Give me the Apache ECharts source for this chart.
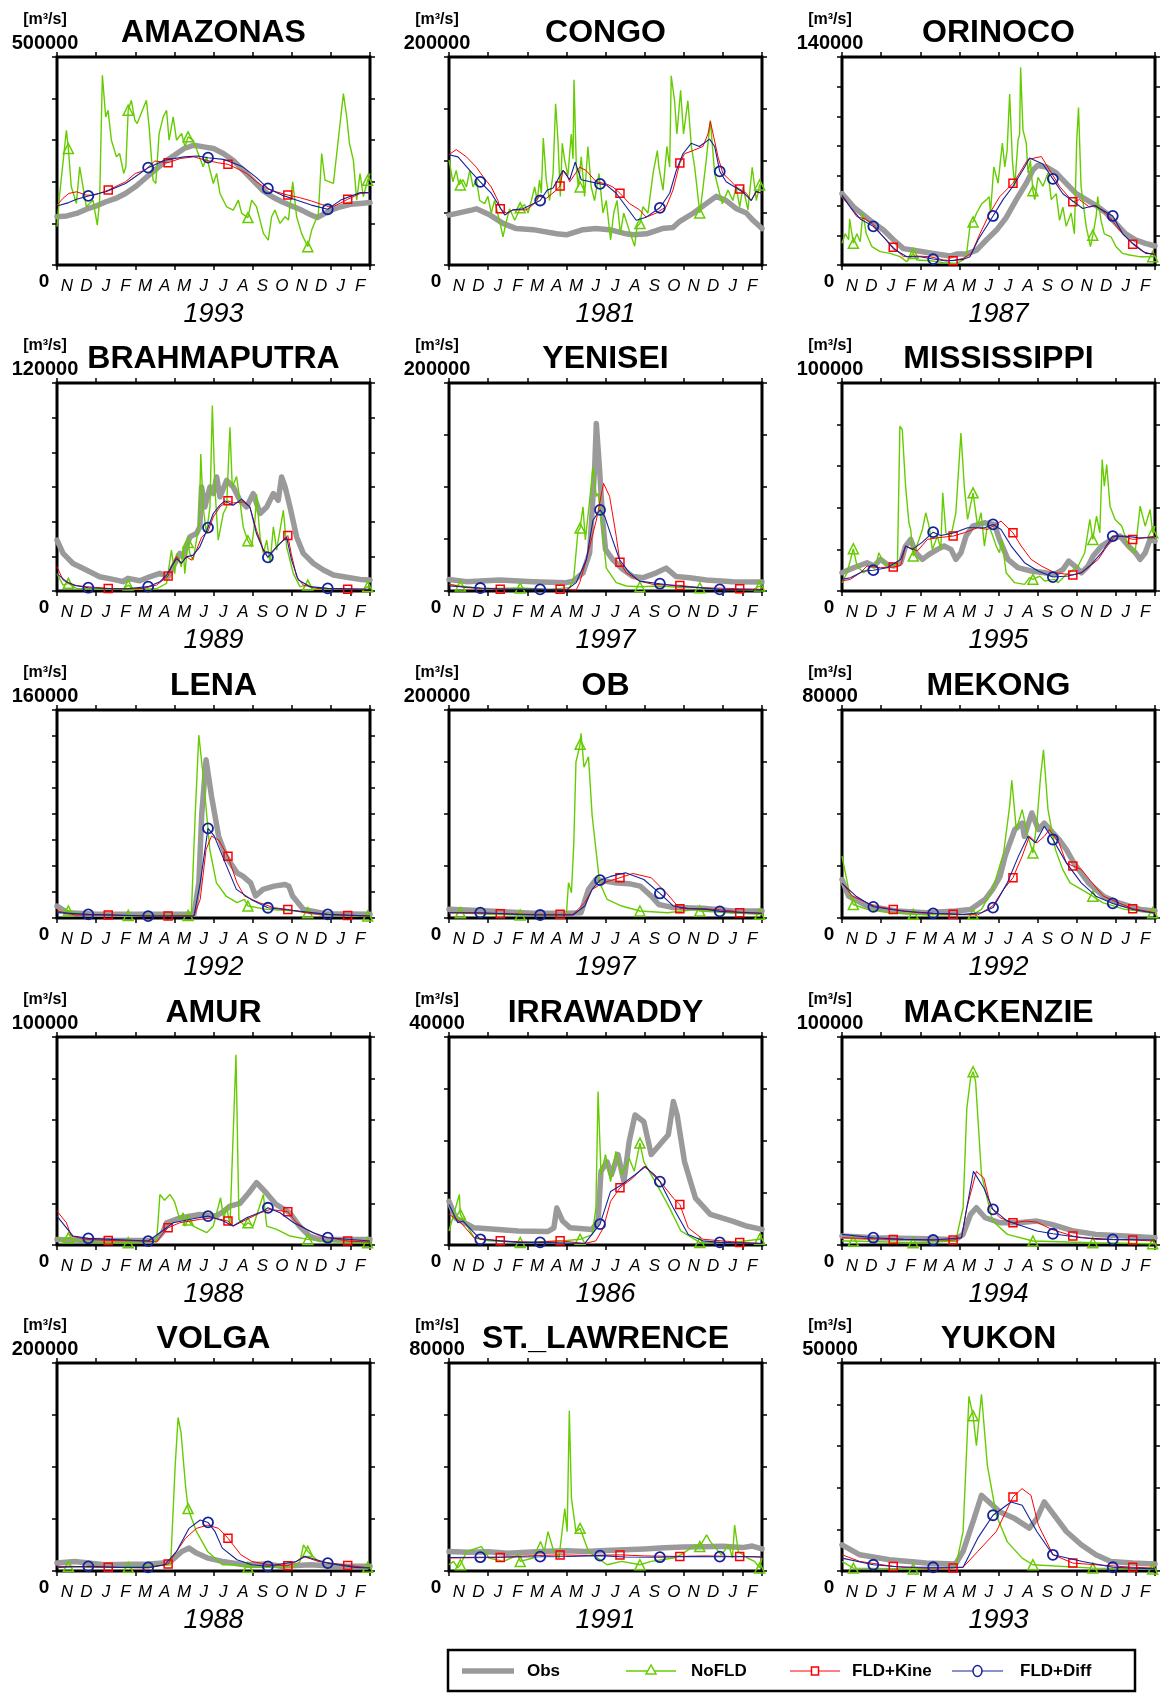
<!DOCTYPE html>
<html>
<head>
<meta charset="utf-8">
<script src="https://cdn.jsdelivr.net/npm/echarts@6/dist/echarts.min.js"></script>
<style>
html,body{margin:0;padding:0;background:#fff;}
#chart{width:1161px;height:1693px;}
</style>
</head>
<body>
<div id="chart"></div>
<script>
// River discharge hydrographs: observed vs. three model runs (values in 1000 m3/s, x in months from 1 Nov)
const rivers = ['AMAZONAS','CONGO','ORINOCO','BRAHMAPUTRA','YENISEI','MISSISSIPPI','LENA','OB','MEKONG','AMUR','IRRAWADDY','MACKENZIE','VOLGA','ST._LAWRENCE','YUKON'];
const years = ['1993','1981','1987','1989','1997','1995','1992','1997','1992','1988','1986','1994','1988','1991','1993'];
const yMax = [500000,200000,140000,120000,200000,100000,160000,200000,80000,100000,40000,100000,200000,80000,50000];
const yIntervals = [5,4,7,6,4,5,8,4,4,5,4,5,4,4,5];
const months = ['N','D','J','F','M','A','M','J','J','A','S','O','N','D','J','F'];
const seriesNames = ['Obs','NoFLD','FLD+Kine','FLD+Diff'];
// months at which each model run carries a marker
const triMonths = [0.58,3.64,6.70,9.76,12.82,15.88];
const sqrMonths = [2.62,5.68,8.74,11.80,14.86];
const cirMonths = [1.60,4.66,7.72,10.78,13.84];

const amazonasObs = [[0,116],[0.5,118],[1,124],[1.5,134],[2,142],[2.5,152],[3,160],[3.5,172],[4,188],[4.5,208],[5,228],[5.5,248],[6,264],[6.5,280],[7,288],[7.5,284],[8,280],[8.5,268],[9,252],[9.5,228],[10,204],[10.5,180],[11,164],[11.5,152],[12,142],[12.5,132],[13,120],[13.3,114],[13.7,124],[14,132],[14.5,140],[15,146],[15.5,148],[16,150]];
const amazonasNoFLD = [[0,92],[0.14,172],[0.48,324],[0.58,280],[0.73,188],[0.99,148],[1.16,236],[1.5,140],[1.84,156],[2.06,96],[2.18,156],[2.32,456],[2.49,356],[2.61,372],[2.78,300],[3.04,260],[3.2,268],[3.41,220],[3.52,236],[3.64,372],[3.8,396],[3.98,348],[4.1,340],[4.57,396],[4.71,332],[4.91,204],[5.05,196],[5.22,316],[5.43,356],[5.6,372],[5.73,300],[5.94,356],[6.11,300],[6.37,316],[6.54,284],[6.7,308],[6.96,300],[7.47,236],[7.65,260],[7.99,196],[8.16,220],[8.33,172],[8.67,140],[9.01,132],[9.27,156],[9.44,124],[9.76,114],[9.95,156],[10.2,140],[10.55,76],[10.8,60],[10.97,116],[11.14,132],[11.4,100],[11.66,116],[11.83,108],[12.05,200],[12.25,116],[12.5,76],[12.82,44],[13.02,84],[13.36,124],[13.53,268],[13.7,204],[14.13,196],[14.3,268],[14.64,412],[14.81,356],[14.95,292],[15.15,252],[15.32,156],[15.49,220],[15.66,164],[15.88,204],[16,220]];
const amazonasKine = [[0,144],[0.3,160],[0.6,172],[1,176],[1.5,168],[1.9,168],[2.62,180],[3.5,200],[4,220],[4.5,228],[5,250],[5.68,246],[6.3,256],[7,260],[7.6,252],[8.2,246],[8.74,242],[9.2,232],[9.7,220],[10.2,200],[10.7,184],[11.2,176],[11.8,168],[12.4,162],[13,154],[13.5,146],[13.9,140],[14.2,142],[14.86,158],[15.5,172],[16,174]];
const amazonasDiff = [[0,142],[0.6,150],[1.0,158],[1.6,166],[2.5,176],[3.5,196],[4.0,212],[4.66,234],[5.5,252],[6.5,260],[7.2,262],[7.72,258],[8.5,254],[9.5,236],[10.2,210],[10.78,184],[11.5,168],[12,160],[13,144],[13.84,134],[14.5,156],[15.5,174],[16,174]];

const congoObs = [[0,48],[1.2,53],[1.4,54],[2.1,48],[2.76,40],[3.44,35],[4.3,34],[5.5,30],[6,29],[6.85,34],[7.5,35],[8.2,34],[9.06,30],[9.4,29],[10.1,30],[10.9,35],[11.45,36],[11.8,42],[12.5,50],[13.15,59],[13.66,66],[14.17,62],[14.7,54],[15.2,50],[15.54,43],[16,35]];
const congoNoFLD = [[0,101],[0.2,80],[0.37,91],[0.51,77],[0.58,77],[0.72,82],[0.89,75],[1.06,91],[1.23,75],[1.4,82],[1.57,62],[1.82,59],[1.99,66],[2.16,50],[2.33,62],[2.59,42],[2.76,27],[2.93,42],[3.1,54],[3.36,43],[3.53,50],[3.64,55],[3.87,58],[4.04,50],[4.21,62],[4.38,75],[4.51,62],[4.63,82],[4.72,69],[4.82,122],[4.97,82],[5.14,62],[5.32,88],[5.45,155],[5.57,120],[5.69,66],[5.79,117],[5.91,101],[6.08,86],[6.25,126],[6.34,102],[6.39,178],[6.51,94],[6.61,75],[6.70,75],[6.76,104],[6.93,66],[7.1,114],[7.27,75],[7.44,62],[7.67,88],[7.87,50],[8.04,62],[8.26,24],[8.42,50],[8.59,62],[8.76,30],[8.93,50],[9.2,34],[9.49,18],[9.61,37],[9.76,40],[9.91,56],[10.17,50],[10.43,88],[10.65,110],[10.73,94],[10.94,72],[11.14,114],[11.28,94],[11.36,182],[11.53,158],[11.65,126],[11.84,168],[11.99,126],[12.21,158],[12.39,114],[12.56,94],[12.82,50],[12.95,69],[13.15,101],[13.36,139],[13.58,88],[13.83,69],[13.97,59],[14.26,72],[14.51,62],[14.68,75],[14.86,56],[15.03,75],[15.28,53],[15.5,94],[15.71,62],[15.88,77],[16,78]];
const congoKine = [[0,106],[0.37,111],[0.89,104],[1.4,94],[1.74,85],[2.16,75],[2.5,62],[2.62,54],[2.93,50],[3.27,53],[3.95,53],[4.3,58],[4.63,66],[4.97,64],[5.49,72],[5.68,76],[5.83,91],[6,88],[6.17,80],[6.68,94],[7,91],[7.53,80],[8.04,78],[8.38,75],[8.74,69],[9.23,59],[9.74,53],[10.08,46],[10.6,50],[11.1,56],[11.45,72],[11.8,98],[12.04,107],[12.47,110],[12.98,114],[13.24,126],[13.36,138],[13.5,126],[13.75,104],[14,88],[14.34,82],[14.69,75],[14.86,73],[15.2,69],[15.45,62],[15.7,70],[16,69]];
const congoDiff = [[0,106],[0.46,104],[1.06,91],[1.6,80],[2.16,69],[2.59,56],[2.85,48],[3.27,53],[3.78,54],[4.66,62],[5.02,72],[5.32,74],[5.83,91],[6.17,82],[6.45,99],[6.76,82],[7.72,78],[8.04,77],[8.55,69],[9.06,56],[9.57,43],[10.08,46],[10.78,55],[11.28,69],[11.62,91],[11.96,107],[12.38,117],[12.8,114],[13.32,121],[13.58,114],[13.84,90],[14.17,80],[14.69,74],[15.03,70],[15.45,62],[15.7,71],[16,69]];

const orinocoObs = [[0,48],[0.6,39],[1.44,30],[2.12,23.5],[2.63,17],[3.14,11],[3.82,9.6],[4.67,7.8],[5.18,6.7],[5.52,6],[5.86,7.4],[6.37,7.4],[6.88,10],[7.39,17],[7.9,23.5],[8.4,32],[8.91,44],[9.42,55],[9.76,64],[10,67],[10.44,66],[10.95,62],[11.46,55],[11.97,48],[12.48,44],[12.99,40],[13.5,35],[14,28],[14.5,21],[15,17],[15.5,14.6],[16,12.8]];
const orinocoNoFLD = [[0,14.6],[0.17,21],[0.34,17],[0.39,31],[0.58,14.6],[0.76,21],[0.93,15.7],[1.07,35],[1.24,21],[1.53,12.3],[1.95,9],[2.46,7.8],[2.97,5.6],[3.31,2.2],[3.64,7.8],[3.82,3.4],[4.5,2.9],[5.18,1.6],[5.86,1.1],[6.2,3.4],[6.37,7.8],[6.57,29],[6.70,29],[6.88,35],[7.13,41],[7.39,44],[7.52,46],[7.59,35],[7.76,66],[7.98,55],[8.1,70.5],[8.2,82],[8.32,66],[8.44,77],[8.57,115],[8.71,70.5],[8.83,53],[9,84],[9.08,88],[9.13,133],[9.25,91],[9.42,82],[9.51,62],[9.63,70.5],[9.76,50],[9.85,44],[10.02,59],[10.27,53],[10.53,62],[10.7,44],[10.95,48],[11.12,30],[11.29,39],[11.46,26],[11.71,35],[11.88,21],[12,84],[12.09,106],[12.22,53],[12.48,26],[12.7,12.3],[12.82,20],[12.99,32.5],[13.07,46],[13.24,30],[13.41,21],[13.75,19],[14.01,12.3],[14.35,7.8],[14.69,6.7],[15.2,5.6],[15.88,5.6],[16,7.8]];
const orinocoKine = [[0,46],[0.42,39],[0.76,32.5],[1.19,31],[1.62,27],[2.04,20],[2.62,12],[3.14,5.6],[3.82,6],[4.5,5.6],[5.18,3.4],[5.68,2.9],[6.2,4.5],[6.62,7.8],[7.05,21],[7.56,35],[8.06,46],[8.74,55],[9.08,62],[9.5,71],[10.19,73],[10.61,64],[11.12,53],[11.8,42.5],[12.14,44],[12.65,39],[12.99,40],[13.67,32.5],[14.18,23.5],[14.86,14],[15.37,9],[16,6.7]];
const orinocoDiff = [[0,47],[0.42,39],[0.93,31],[1.6,26],[2.12,19],[2.63,11],[3.31,5.6],[3.99,5.6],[4.66,4],[5.35,2.7],[6.2,3.8],[6.54,5.6],[6.96,17],[7.72,33],[8.23,44],[8.74,53],[9.34,66],[9.59,72],[10.27,68],[10.78,58],[11.29,48],[11.8,43],[12.31,38],[12.9,40],[13.84,33],[14.35,21],[14.86,14.6],[15.53,7.8],[16,7.4]];

const brahmaputraObs = [[0,29.3],[0.31,21.7],[0.82,15.9],[1.5,12.1],[2.18,8.2],[2.87,6.7],[3.38,5.4],[3.63,7.3],[4.23,5.9],[4.74,8.2],[5.26,10.2],[5.68,8.2],[5.94,14],[6.28,21.7],[6.45,19.7],[6.79,31.2],[7.13,33.2],[7.3,37],[7.39,60],[7.56,48.5],[7.82,60],[7.99,56.2],[8.16,65.8],[8.33,54.3],[8.67,63.8],[9.01,60],[9.35,52.3],[9.69,48.5],[10.03,56.2],[10.38,44.7],[10.72,48.5],[11.06,56.2],[11.31,52.3],[11.48,65.8],[11.66,60],[11.91,48.5],[12.25,31.2],[12.59,21.7],[13.11,15.9],[13.62,12.1],[14.13,9.2],[14.81,7.9],[15.49,6.7],[16,6.3]];
const brahmaputraNoFLD = [[0,10],[0.31,3.4],[0.58,4.4],[0.99,1.5],[2.18,1],[3.38,1],[3.64,3.4],[3.89,1],[5.09,1.3],[5.6,4.4],[5.85,23.6],[6.02,10],[6.11,21.7],[6.36,14],[6.45,25.5],[6.53,10],[6.7,28],[6.79,21.7],[6.96,17.8],[7.13,29.3],[7.27,39],[7.35,79],[7.47,48.5],[7.64,33],[7.82,48.5],[7.94,107],[8.07,60],[8.24,29.3],[8.5,44.7],[8.67,48.5],[8.84,94.5],[8.96,60],[9.18,66],[9.35,52],[9.52,37],[9.69,31],[9.76,29],[9.95,25.5],[10.12,40.8],[10.2,56],[10.38,31],[10.55,21.7],[10.72,29.3],[10.89,16],[11.06,37],[11.23,23.6],[11.57,46.6],[11.74,25.5],[12.08,10],[12.42,2.5],[12.82,3.4],[13.11,1],[15.66,1],[15.88,2.5],[16,1.5]];
const brahmaputraKine = [[0,14],[0.31,6.3],[0.82,3.4],[1.5,2.5],[2.62,1.5],[3.5,1.2],[4.4,1.5],[5.09,3.4],[5.68,8.6],[5.84,14],[6.11,20],[6.36,16],[6.62,19.7],[6.88,17.8],[7.13,23.6],[7.39,31],[7.73,34.7],[7.99,42.7],[8.33,48.5],[8.74,52],[9.01,50.8],[9.52,51.4],[9.86,48.5],[10.2,35],[10.55,23.6],[10.89,21.7],[11.23,25.5],[11.57,29.3],[11.8,32],[11.97,21.7],[12.25,8.2],[12.59,3.4],[13.28,1.5],[14.86,1],[16,0.6]];
const brahmaputraDiff = [[0,10],[0.48,5.4],[0.99,3],[1.6,1.9],[2.7,1.3],[3.55,1.3],[4.66,2.5],[5.26,5.4],[5.6,9.2],[6.11,18.8],[6.36,16],[6.62,19.7],[6.96,20.7],[7.3,25.5],[7.72,36.6],[7.99,44.7],[8.33,49.5],[8.58,52],[9.01,49.5],[9.44,53],[9.86,48.5],[10.2,33],[10.55,23.6],[10.78,19.4],[11.23,25.5],[11.57,29.3],[11.74,31],[11.99,17.8],[12.34,6.3],[12.94,2.5],[13.84,1.5],[16,1]];

const yeniseiObs = [[0,11],[0.89,9],[2.59,10.5],[4.29,9],[5.99,8],[6.34,9.5],[6.85,17.5],[7.19,36.6],[7.45,120],[7.53,161],[7.7,116],[7.85,70],[8.0,40],[8.38,30],[8.89,20.7],[9.4,14],[9.9,12.7],[10.6,17.5],[11.1,22],[11.6,14],[12.3,12.7],[13.15,10.5],[14.5,9],[16,8.6]];
const yeniseiNoFLD = [[0,6.4],[0.58,4.8],[1.74,2.2],[3.64,2.9],[5.15,1.6],[6.16,3.2],[6.37,11],[6.59,57],[6.70,60.5],[6.85,81],[6.97,49],[7.19,87.5],[7.36,119],[7.53,91],[7.62,94],[7.79,68],[8.04,22],[8.55,8],[9.06,4.8],[9.76,4.1],[10.77,4.8],[11.96,3.2],[12.82,3.2],[13.66,1.6],[15.54,1],[15.88,4.8],[16,2.5]];
const yeniseiKine = [[0,6.4],[0.89,3.2],[2.62,1.6],[5.68,1.6],[6.5,1.0],[6.68,8],[7.02,30],[7.53,68],[7.9,103.5],[8.0,105],[8.21,91],[8.55,52.5],[8.74,27.7],[9.06,17.5],[9.74,9.5],[10.43,6.4],[11.8,5.4],[12.81,3.2],[14.86,2.2],[16,1.6]];
const yeniseiDiff = [[0,4.8],[1.6,2.9],[3.1,1.6],[4.66,1.6],[6.0,1.0],[6.5,8],[7.02,30],[7.36,68],[7.72,78],[7.96,71.7],[8.3,52.5],[8.72,30],[9.23,17.5],[9.74,9.5],[10.78,7],[11.62,4.8],[12.81,3.2],[13.84,1.6],[16,1]];

const mississippiObs = [[0,8.8],[0.6,11.2],[1.28,13.6],[1.63,12],[1.97,15.2],[2.31,12.8],[2.65,12],[3,13.6],[3.25,21.6],[3.51,24.8],[3.77,18.4],[4.11,15.2],[4.45,17.6],[4.88,20],[5.22,21.6],[5.57,20],[5.82,15.2],[6.08,18.4],[6.34,26.4],[6.68,31.2],[7.28,32.8],[7.79,32],[8.05,24.8],[8.48,15.2],[8.99,11.2],[9.67,9.6],[10.36,8.8],[10.87,8],[11.3,10.4],[11.59,14.4],[11.9,12],[12.24,8.8],[12.58,12],[12.84,16.8],[13.27,21.6],[13.78,24.8],[14.21,26.4],[14.64,21.6],[15,18.4],[15.24,15.2],[15.5,18.4],[15.75,24.8],[16,24]];
const mississippiNoFLD = [[0,4],[0.26,8.8],[0.58,20.3],[0.77,12],[1.11,8.8],[1.54,12],[1.71,11.2],[1.88,18.4],[2.23,12],[2.65,12.8],[2.83,11.2],[2.96,79.2],[3.08,77.6],[3.25,50.4],[3.42,32.8],[3.51,29.6],[3.64,16.8],[3.94,24.8],[4.11,29.6],[4.28,37.6],[4.45,31.2],[4.62,20],[4.88,26.4],[5.05,20],[5.15,47.2],[5.31,28],[5.57,26.4],[5.82,37.6],[6.08,76],[6.25,50.4],[6.42,34.4],[6.70,47.2],[6.93,31.2],[7.11,37.6],[7.28,21.6],[7.45,32.8],[7.71,26.4],[7.88,21.6],[8.05,18.4],[8.17,24.8],[8.39,8.8],[8.82,4],[9.33,3.2],[9.59,6.4],[9.76,5.6],[10.1,7.2],[10.36,4.8],[10.87,5.6],[11.04,4],[11.39,7.2],[12.07,12],[12.41,18.4],[12.67,34.4],[12.82,24.8],[13.01,36],[13.18,28],[13.3,63.2],[13.41,50.4],[13.53,60.8],[13.7,40.8],[13.96,34.4],[14.3,31.2],[14.64,21.6],[14.98,18.4],[15.24,40.8],[15.5,31.2],[15.75,39.2],[15.88,28],[16,31.2]];
const mississippiKine = [[0,4.8],[0.43,5.6],[0.94,8.8],[1.28,12],[1.97,11.2],[2.62,11.5],[3,12.3],[3.25,21.6],[3.68,20],[3.85,19.2],[4.37,24.8],[4.88,25.6],[5.68,26.4],[6.25,28],[6.93,30.4],[7.45,29.6],[8.13,33.6],[8.74,28],[9.16,21.6],[9.67,15.2],[10.19,12],[10.87,8.8],[11.8,7.7],[12.24,8.8],[12.58,11.2],[13.1,15.2],[13.44,20],[13.95,26.4],[14.47,26],[14.86,24.8],[15.24,25.2],[16,26.4]];
const mississippiDiff = [[0,5.6],[0.43,6.4],[1.11,9.6],[1.6,10],[2.31,11.2],[3,15.2],[3.25,21.6],[3.6,20],[4.11,23.5],[4.66,28.3],[5.05,26.7],[5.74,28],[6.42,30.4],[7.28,30.4],[7.72,32],[8.13,29.6],[8.65,21.6],[9.33,13.6],[10.02,9.6],[10.78,6.7],[11.56,7.2],[12.24,8.8],[12.75,12.8],[13.27,18.4],[13.84,26.4],[14.47,26.4],[15.15,25.6],[16,25.6]];

const lenaObs = [[0,9.2],[0.53,4.1],[2.04,2.8],[4.68,2.8],[7,2.8],[7.25,27],[7.4,80],[7.62,121.7],[7.9,93.5],[8.26,63],[8.64,47.5],[9.2,34.8],[9.5,32.2],[9.9,27],[10.15,16.9],[10.53,22],[11.1,24.5],[11.66,25.8],[11.85,24.5],[12.04,16.9],[12.6,6.6],[13.7,3.3],[16,2.8]];
const lenaNoFLD = [[0,4.1],[0.58,5.4],[1.28,2.8],[3.64,2],[6.57,2],[6.70,2],[6.87,4.1],[7.06,78],[7.25,140.8],[7.51,103.8],[7.81,52.7],[8.15,27],[8.64,16.9],[9.2,11.8],[9.58,14.3],[9.76,9.2],[10.72,6.6],[12.23,5.4],[12.82,4.1],[14.11,2],[15.88,1.5],[16,1.5]];
const lenaKine = [[0,5.4],[0.91,2.3],[2.62,2.3],[4.68,1.5],[5.68,1.5],[7,1.5],[7.32,14.3],[7.62,52.7],[7.9,63],[8.26,60],[8.74,47.5],[9.2,27],[9.58,16.9],[10.34,11.8],[11.1,7.9],[11.8,6.6],[12.98,3.3],[14.86,2],[16,1.5]];
const lenaDiff = [[0,4.1],[1.6,2.8],[4.66,1.5],[7,1.5],[7.32,27],[7.72,69],[8.04,63],[8.6,42.4],[9.17,22],[9.92,14.3],[10.78,7.9],[12.3,5.4],[13.84,2.8],[16,1.5]];

const obObs = [[0,8.3],[2.04,6.7],[4.3,4.5],[6.19,4.5],[6.75,5.1],[7.13,27.5],[7.51,37],[8.45,34],[9.2,33],[9.77,30.7],[10.34,21],[10.72,13],[11.47,10],[13,9.3],[14.5,6.7],[16,6.7]];
const obNoFLD = [[0,5.1],[0.58,5.1],[2.04,3.5],[3.64,2.9],[6.0,2.9],[6.11,34],[6.26,24.3],[6.38,72],[6.49,150],[6.64,161.7],[6.70,167],[6.75,177.6],[6.9,145],[7.13,155],[7.32,97.8],[7.7,34],[8.08,18],[8.83,11.5],[9.76,6.7],[11.17,5.1],[12.68,8.3],[12.82,6.7],[14.5,5.1],[15.88,3.5],[16,3.5]];
const obKine = [[0,5.1],[2.62,4.2],[4.3,3.5],[5.68,3.5],[6.34,3.5],[6.94,14.7],[7.32,27.5],[7.9,34],[8.74,38.7],[9.4,42.8],[10.34,38.7],[11.1,24.3],[11.8,9],[13,9],[14.5,6.7],[14.86,5.1],[16,4.5]];
const obDiff = [[0,5.1],[1.6,5.1],[3.55,3.5],[4.66,2.9],[6.34,2.9],[6.94,11.5],[7.32,27.5],[7.72,36.4],[8.26,40],[9.02,43.5],[9.96,37],[10.78,23.6],[11.47,11.5],[12.23,9],[13.17,8.3],[13.84,6.4],[16,4.5]];

const mekongObs = [[0,14.8],[0.34,8.4],[1.28,4.6],[2.79,2.7],[4.3,2],[5.81,2.7],[6.57,3.3],[7.32,7.2],[7.7,11],[8.08,16],[8.34,23.8],[8.83,34],[9.21,36.5],[9.32,31.4],[9.7,40.4],[10.04,34],[10.34,36.5],[11.09,30.2],[11.47,26.3],[11.85,21.2],[12.6,13.5],[13.36,8.4],[14.11,5.9],[15.25,3.3],[16,2.7]];
const mekongNoFLD = [[0,23.8],[0.34,11],[0.58,5.2],[1.28,3.3],[2.42,2],[3.64,1.4],[5.43,1.2],[6.7,1.4],[7.13,3.3],[7.7,11],[8.26,25],[8.57,43],[8.68,53],[8.91,34],[9.21,41.7],[9.51,31.4],[9.76,25],[9.96,36.5],[10.15,54.4],[10.3,64.7],[10.53,41.7],[10.91,26.3],[11.28,18.7],[11.66,13.5],[12.23,11],[12.82,8.4],[13.32,5.9],[14.45,3.3],[15.88,2],[16,2]];
const mekongKine = [[0,13.5],[0.53,8.4],[1.66,4.6],[2.62,3.3],[3.92,2],[5.68,1.4],[6.94,1.2],[7.7,4.6],[8.26,11],[8.74,15.5],[9.21,23.8],[9.58,31.4],[9.96,28.9],[10.34,31.4],[10.6,34],[11.09,28.9],[11.47,21.2],[11.8,20],[12.23,18.7],[12.79,13.5],[13.36,8.4],[14.11,5.9],[14.86,3.6],[16,2]];
const mekongDiff = [[0,13.3],[0.72,8.4],[1.6,4.3],[3.17,2.6],[4.66,1.8],[6.19,1.4],[7.13,2],[7.72,4],[8.45,13.5],[9.02,23.8],[9.51,31.4],[9.89,28.9],[10.34,35.3],[10.78,30.2],[11.47,21.2],[12.23,13.5],[12.98,8.4],[13.84,5.6],[14.87,3.3],[16,1.8]];

const amurObs = [[0,2.7],[1.66,2.2],[4.68,2.2],[5.08,2.7],[5.4,6],[5.6,10.7],[6.3,13],[7.3,14.7],[8.15,14],[8.5,16],[8.84,18.7],[9.35,20],[9.8,25],[10.2,30],[10.3,30.7],[10.7,25],[11.2,19.5],[11.9,15.5],[12.4,9],[12.9,4.3],[13.4,2.7],[16,2.7]];
const amurNoFLD = [[0,3.5],[0.25,2],[0.58,3.5],[1.3,1.5],[3.64,1.1],[5.08,1.9],[5.15,9.1],[5.26,24.3],[5.5,21.5],[5.77,24.3],[6.0,21],[6.28,12.3],[6.45,15.5],[6.53,9.1],[6.70,12],[6.96,9.1],[7.65,5.9],[7.99,9.1],[8.36,22.7],[8.53,12.3],[8.67,18.7],[8.84,9.1],[9.15,91.5],[9.3,12.3],[9.6,9.1],[9.76,10.7],[10.03,9.1],[10.55,24.3],[10.72,9.1],[11.23,7.5],[11.91,4.3],[12.82,2.7],[14.11,1.5],[15.88,1.1],[16,1.1]];
const amurKine = [[0,16.3],[0.48,10.7],[0.73,4.3],[1.5,2.7],[2.62,2.2],[4.6,1.9],[5.1,1.4],[5.43,5.9],[5.68,8.3],[6.28,10.7],[7.3,12.3],[7.99,13.1],[8.74,11.5],[9.0,9.1],[9.7,12.3],[10.4,15.5],[10.9,17.1],[11.8,16],[12.25,10.7],[12.76,7.5],[13.45,4.3],[14.86,1.9],[16,1.4]];
const amurDiff = [[0,13.9],[0.82,4.3],[1.6,3.2],[4.66,1.9],[5.26,5.9],[5.94,10.7],[6.96,12.6],[7.72,13.9],[8.5,11.5],[9.0,9.1],[9.7,13.1],[10.55,16.3],[10.78,17.9],[11.4,15.5],[12.1,10.7],[13.1,5.9],[13.84,3.5],[16,1.9]];

const irrawaddyObs = [[0,8.4],[0.34,5.2],[1.28,3.3],[3.55,2.7],[5.06,2.6],[5.36,3.3],[5.51,7.1],[5.81,4.6],[6.19,3.3],[7.32,3],[7.62,4.6],[7.77,14.2],[8.08,16],[8.3,13.5],[8.64,17.4],[8.94,12.2],[9.21,19.9],[9.51,25],[9.96,23.7],[10.34,17.4],[10.91,19.9],[11.21,21.2],[11.47,27.6],[11.66,25],[12.04,16],[12.6,9],[13.36,5.9],[14.49,4.6],[15.25,3.6],[16,3]];
const irrawaddyNoFLD = [[0,2.7],[0.53,9.7],[0.58,5.9],[1.28,1.4],[2.04,0.8],[3.64,0.5],[5.81,0.8],[6.70,1.1],[7.32,2],[7.51,7.1],[7.62,29.5],[7.77,13.5],[8,17.4],[8.26,12.2],[8.53,18],[8.83,13.5],[9.21,16.7],[9.47,14.2],[9.76,19.6],[9.96,16],[10.34,13.5],[10.72,11],[11.28,7.1],[11.85,2.7],[12.82,0.5],[14.49,0.5],[15.88,1.1],[16,2]];
const irrawaddyKine = [[0,5.9],[0.53,4.6],[1.28,1.4],[2.62,0.8],[4.3,0.5],[5.68,0.8],[6.94,0.3],[7.51,0.8],[7.89,3.3],[8.26,8.4],[8.74,11],[9.4,12.9],[9.96,15.1],[10.53,13.5],[11.47,9],[11.8,7.8],[12.23,3.3],[12.98,1.1],[14.86,0.5],[16,0.3]];
const irrawaddyDiff = [[0,7.8],[0.45,4.3],[0.72,4.6],[1.6,1.1],[3.55,0.5],[4.66,0.5],[6.94,0.3],[7.72,4],[8.26,10.3],[8.83,11.6],[9.51,13.5],[10.04,15.1],[10.78,12.2],[11.47,7.1],[12.23,2],[12.98,0.8],[13.84,0.5],[16,0.3]];

const mackenzieObs = [[0,4.3],[1.66,3.5],[4.3,3],[5.81,2.7],[6.19,5.1],[6.57,14.7],[6.87,17.9],[7.32,13.1],[8.08,10.7],[9.02,10.7],[9.96,11.5],[10.72,9.9],[11.85,6.7],[12.98,5.1],[14.49,4.3],[16,3.5]];
const mackenzieNoFLD = [[0,1.9],[0.58,1.9],[3.64,1.1],[5.81,1.9],[6.19,17.9],[6.38,65.7],[6.57,80],[6.70,83.3],[6.83,78.5],[7.13,33.8],[7.7,11.5],[8.45,5.1],[9.76,1.9],[12.82,1.1],[15.88,0.6],[16,0.6]];
const mackenzieKine = [[0,3.5],[2.62,2.7],[5.68,2.4],[6.11,3.5],[6.38,17.9],[6.87,35.4],[7.25,32.2],[7.62,17.9],[8.08,13.1],[8.74,10.7],[9.4,11.5],[9.96,11],[10.72,7.5],[11.8,4.3],[12.98,2.7],[14.86,2.4],[16,1.9]];
const mackenzieDiff = [[0,5.1],[1.6,3.5],[3.17,2.7],[4.66,2.4],[6.11,3.5],[6.38,17.9],[6.72,35.4],[7.25,27.4],[7.72,17.1],[8.45,11.5],[9.21,9.1],[9.96,6.7],[10.78,5.4],[12.23,3.5],[13.84,2.7],[16,2.4]];

const volgaObs = [[0,7.6],[0.91,9.2],[2.42,6],[4.68,6.7],[5.43,7.6],[5.81,9.2],[6.38,18.8],[6.75,22],[7.13,17.2],[7.7,12.4],[8.45,9.2],[9.58,6],[10.72,6.7],[11.47,4.5],[12.98,6],[14.11,4.5],[16,4.5]];
const volgaNoFLD = [[0,3.5],[0.58,4.5],[1.66,3.5],[3.64,3.5],[5.81,6],[6.04,101],[6.19,147.6],[6.34,133],[6.57,82],[6.70,60],[7.13,37.8],[7.7,18.8],[8.45,6],[9.2,6],[9.76,3.5],[12.04,3.5],[12.42,9.2],[12.6,25],[12.82,18.8],[13.36,9.2],[14.87,4.5],[15.88,3.5],[16,3.5]];
const volgaKine = [[0,4.5],[2.62,3.5],[4.68,2.9],[5.68,6.7],[6.0,15.6],[6.57,31.5],[7.13,41],[7.7,44.2],[8.26,41],[8.74,31.5],[9.4,15.6],[9.96,9.2],[10.79,6],[11.8,5.1],[12.23,9.2],[12.6,14],[13.36,9.2],[14.86,5.4],[16,2.9]];
const volgaDiff = [[0,3.5],[1.6,4.5],[3.17,3.5],[4.66,3.5],[5.51,6],[6.11,18.8],[6.75,41],[7.32,49],[7.72,46.7],[8.08,37.8],[8.45,22],[9.2,10.8],[9.96,6],[10.78,4.5],[12.23,9.2],[12.68,14],[13.84,7.6],[15.25,3.5],[16,2.9]];

const stlawrenceObs = [[0,7.5],[1,7.2],[2,7.4],[3,6.8],[4,7.2],[5,7.6],[6,7.8],[7,7.5],[8,7.9],[9,8.2],[10,8.5],[11,8.9],[12,9.2],[13,9.3],[14,9.5],[15,9],[15.5,9.6],[16,8.5]];
const stlawrenceNoFLD = [[0,2.4],[0.23,3.7],[0.45,1.2],[0.58,2.4],[0.91,7.5],[1.66,9.4],[2.04,5],[2.79,3.7],[3.55,6.2],[3.64,3.7],[4.3,5],[4.68,11.3],[4.87,7.5],[5.06,15.1],[5.36,7.5],[5.62,5],[5.92,24],[6.04,15.1],[6.15,61.6],[6.26,27.9],[6.49,15.1],[6.70,16.4],[7.13,7.5],[8.08,2.4],[8.83,3.7],[9.76,2.4],[10.34,3.7],[11.47,5],[11.85,6.2],[12.6,10],[12.82,9.4],[13.17,13.9],[13.36,11.3],[13.92,6.2],[14.3,10],[14.49,5],[14.6,17.7],[14.79,7.5],[15.25,5],[15.62,3.7],[15.88,1.2],[16,5]];
const stlawrenceKine = [[0,5],[1.3,5.1],[2.62,5.2],[4,5.8],[5.68,6.2],[7,6],[8.74,6.2],[10,5.8],[11.8,5.6],[13,5.8],[14.86,5.6],[16,5.4]];
const stlawrenceDiff = [[0,5.2],[1.6,5.3],[3,5.4],[4.66,5.5],[6,5.6],[7.72,5.9],[9,5.4],[10.78,5.3],[12,5.6],[13.84,5.5],[15,5.6],[16,5.4]];

const yukonObs = [[0,6.3],[0.91,3.9],[2.42,2.7],[4.3,1.9],[5.81,1.7],[6.19,4.7],[6.75,12.6],[7.13,18.2],[7.51,16.6],[8.08,14.2],[8.83,12.6],[9.58,10.3],[9.96,12.6],[10.34,16.6],[10.72,14.2],[11.47,9.5],[12.23,6.3],[12.98,3.9],[13.74,2.3],[14.87,1.9],[16,1.7]];
const yukonNoFLD = [[0,2.3],[0.58,0.7],[3.64,0.5],[5.81,0.9],[6.19,9.5],[6.49,42],[6.70,37.3],[6.87,30.1],[7.13,42.5],[7.43,25.4],[7.89,13.4],[8.45,7],[9.21,3.1],[9.76,1.5],[12.82,0.7],[15.88,0.5],[16,0.5]];
const yukonKine = [[0,3.9],[0.91,2.3],[2.62,1.1],[4.3,0.7],[5.68,0.7],[6.19,0.9],[6.94,4.7],[7.89,9.5],[8.74,17.8],[9.2,19.8],[9.66,18.2],[10.04,11],[10.79,3.9],[11.8,1.9],[12.98,1.5],[14.86,0.9],[16,0.7]];
const yukonDiff = [[0,3.1],[1.6,1.5],[3.17,0.9],[4.66,0.9],[6.19,0.9],[6.94,7.9],[7.72,13.4],[8.64,16.6],[9.21,15.8],[9.96,9.5],[10.78,3.9],[12.3,2.3],[13.84,0.9],[16,0.5]];

const panelSeries = [
  [amazonasObs, amazonasNoFLD, amazonasKine, amazonasDiff],
  [congoObs, congoNoFLD, congoKine, congoDiff],
  [orinocoObs, orinocoNoFLD, orinocoKine, orinocoDiff],
  [brahmaputraObs, brahmaputraNoFLD, brahmaputraKine, brahmaputraDiff],
  [yeniseiObs, yeniseiNoFLD, yeniseiKine, yeniseiDiff],
  [mississippiObs, mississippiNoFLD, mississippiKine, mississippiDiff],
  [lenaObs, lenaNoFLD, lenaKine, lenaDiff],
  [obObs, obNoFLD, obKine, obDiff],
  [mekongObs, mekongNoFLD, mekongKine, mekongDiff],
  [amurObs, amurNoFLD, amurKine, amurDiff],
  [irrawaddyObs, irrawaddyNoFLD, irrawaddyKine, irrawaddyDiff],
  [mackenzieObs, mackenzieNoFLD, mackenzieKine, mackenzieDiff],
  [volgaObs, volgaNoFLD, volgaKine, volgaDiff],
  [stlawrenceObs, stlawrenceNoFLD, stlawrenceKine, stlawrenceDiff],
  [yukonObs, yukonNoFLD, yukonKine, yukonDiff]
];

// ---- layout and styling ----
const FONT = '"Liberation Sans", Arial, Helvetica, sans-serif';
const colLeft = [57, 449, 842];
const rowTop = [57, 383, 710, 1037, 1363];
const PW = 313, PH = 208;
const COLORS = { obs: '#9a9a9a', nofld: '#66cc00', kine: '#ff0000', diff: '#14239a' };

function markerSize(positions, size) {
  return function (val) {
    const x = val[0];
    for (let k = 0; k < positions.length; k++) {
      if (Math.abs(x - positions[k]) < 0.03) return size;
    }
    return 0;
  };
}
function toFlow(arr) { return arr.map(p => [p[0], p[1] * 1000]); }

const grids = [], xAxes = [], yAxes = [], series = [], graphics = [];
const tickStyle = { show: true, inside: false, length: 5, lineStyle: { color: '#000', width: 1.5 } };

rivers.forEach((name, i) => {
  const L = colLeft[i % 3], T = rowTop[Math.floor(i / 3)];
  grids.push({ left: L, top: T, width: PW, height: PH, show: true, borderColor: '#000', borderWidth: 3, backgroundColor: 'transparent', containLabel: false });
  // hidden time axis (months since 1 Nov) carrying the data
  xAxes.push({ type: 'value', gridIndex: i, min: 0, max: 16, show: false });
  // month letters with ticks every two months
  xAxes.push({ type: 'category', gridIndex: i, position: 'bottom', data: months, boundaryGap: true,
    axisLine: { show: false }, axisTick: Object.assign({ interval: 1 }, tickStyle),
    axisLabel: { interval: 0, margin: 13, color: '#000', fontSize: 17, fontStyle: 'italic', fontFamily: FONT },
    splitLine: { show: false } });
  xAxes.push({ type: 'category', gridIndex: i, position: 'top', data: months, boundaryGap: true,
    axisLine: { show: false }, axisTick: Object.assign({ interval: 1 }, tickStyle),
    axisLabel: { show: false }, splitLine: { show: false } });
  ['left', 'right'].forEach(pos => {
    yAxes.push({ type: 'value', gridIndex: i, position: pos, min: 0, max: yMax[i], interval: yMax[i] / yIntervals[i],
      axisLine: { show: false }, axisTick: tickStyle, axisLabel: { show: false }, splitLine: { show: false } });
  });

  const [obs, nofld, kine, diff] = panelSeries[i];
  const xi = i * 3, yi = i * 2;
  series.push({ name: seriesNames[0], type: 'line', xAxisIndex: xi, yAxisIndex: yi, data: toFlow(obs), symbol: 'none', z: 2,
    lineStyle: { color: COLORS.obs, width: 5.5, join: 'round', cap: 'round' } });
  series.push({ name: seriesNames[1], type: 'line', xAxisIndex: xi, yAxisIndex: yi, data: toFlow(nofld), z: 3,
    symbol: 'triangle', symbolSize: markerSize(triMonths, 10), showAllSymbol: true,
    itemStyle: { color: 'rgba(255,255,255,0)', borderColor: COLORS.nofld, borderWidth: 1.5 },
    lineStyle: { color: COLORS.nofld, width: 1.4 } });
  series.push({ name: seriesNames[2], type: 'line', xAxisIndex: xi, yAxisIndex: yi, data: toFlow(kine), z: 4,
    symbol: 'rect', symbolSize: markerSize(sqrMonths, 8), showAllSymbol: true,
    itemStyle: { color: 'rgba(255,255,255,0)', borderColor: COLORS.kine, borderWidth: 1.5 },
    lineStyle: { color: COLORS.kine, width: 1 } });
  series.push({ name: seriesNames[3], type: 'line', xAxisIndex: xi, yAxisIndex: yi, data: toFlow(diff), z: 5,
    symbol: 'circle', symbolSize: markerSize(cirMonths, 10), showAllSymbol: true,
    itemStyle: { color: 'rgba(255,255,255,0)', borderColor: COLORS.diff, borderWidth: 1.8 },
    lineStyle: { color: COLORS.diff, width: 1.1 } });

  const txt = (text, x, y, font) => ({ type: 'text', x: x, y: y, silent: true,
    style: { text: text, font: font, fill: '#000', align: 'center', verticalAlign: 'middle', textAlign: 'center', textVerticalAlign: 'middle' } });
  graphics.push(txt(name, L + PW / 2, T - 24, 'bold 32px ' + FONT));
  graphics.push(txt(years[i], L + PW / 2, T + PH + 49, 'italic 27px ' + FONT));
  graphics.push(txt('[m\u00b3/s]', L - 12, T - 37, 'bold 16px ' + FONT));
  graphics.push(txt(String(yMax[i]), L - 12, T - 14, 'bold 20px ' + FONT));
  graphics.push(txt('0', L - 13, T + PH + 17, 'bold 19px ' + FONT));
});

// legend box
const LY = 1671;
graphics.push({ type: 'rect', shape: { x: 448, y: 1650, width: 687, height: 41 }, style: { fill: '#fff', stroke: '#000', lineWidth: 2.5 }, z: 10 });
const legendItems = [
  { x0: 462, x1: 514, color: COLORS.obs, width: 5.5, label: seriesNames[0], tx: 527 },
  { x0: 626, x1: 676, color: COLORS.nofld, width: 1.4, label: seriesNames[1], tx: 691, mark: 'tri' },
  { x0: 790, x1: 840, color: COLORS.kine, width: 1, label: seriesNames[2], tx: 852, mark: 'sqr' },
  { x0: 952, x1: 1003, color: COLORS.diff, width: 1.1, label: seriesNames[3], tx: 1020, mark: 'cir' }
];
legendItems.forEach(it => {
  graphics.push({ type: 'line', shape: { x1: it.x0, y1: LY, x2: it.x1, y2: LY }, style: { stroke: it.color, lineWidth: it.width }, z: 11 });
  const cx = (it.x0 + it.x1) / 2;
  if (it.mark === 'tri') {
    graphics.push({ type: 'polygon', shape: { points: [[cx, LY - 6], [cx - 5, LY + 3], [cx + 5, LY + 3]] }, style: { fill: '#fff', stroke: it.color, lineWidth: 1.5 }, z: 12 });
  } else if (it.mark === 'sqr') {
    graphics.push({ type: 'rect', shape: { x: cx - 3.5, y: LY - 4, width: 7, height: 8 }, style: { fill: '#fff', stroke: it.color, lineWidth: 1.5 }, z: 12 });
  } else if (it.mark === 'cir') {
    graphics.push({ type: 'ellipse', shape: { cx: cx, cy: LY, rx: 4.5, ry: 5.5 }, style: { fill: '#fff', stroke: it.color, lineWidth: 1.5 }, z: 12 });
  }
  graphics.push({ type: 'text', x: it.tx, y: LY, z: 12,
    style: { text: it.label, font: 'bold 17px ' + FONT, fill: '#000', align: 'left', verticalAlign: 'middle', textAlign: 'left', textVerticalAlign: 'middle' } });
});

const chart = echarts.init(document.getElementById('chart'), null, { renderer: 'canvas' });
chart.setOption({
  animation: false,
  backgroundColor: '#fff',
  grid: grids,
  xAxis: xAxes,
  yAxis: yAxes,
  series: series,
  graphic: { elements: graphics }
});
</script>
</body>
</html>
